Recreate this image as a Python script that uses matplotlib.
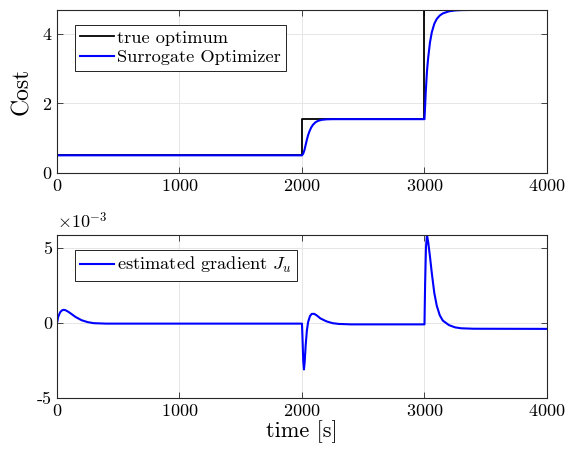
import matplotlib
matplotlib.use("Agg")
import matplotlib.pyplot as plt
from matplotlib.ticker import FuncFormatter

# ---- data ----
t_true = [0, 2000, 3000, 4000]
cost_true = [0.5, 1.54, 4.68, 4.68]

t_sur = [0, 2000, 2010, 2020, 2030, 2040, 2050, 2060, 2075, 2090, 2110, 2130, 2160,
         2200, 2250, 2350, 3000, 3005, 3010, 3020, 3030, 3045, 3060, 3080, 3100,
         3125, 3150, 3200, 3250, 3300, 3400, 4000]
cost_sur = [0.5, 0.5, 0.55, 0.65, 0.8, 0.95, 1.08, 1.18, 1.3, 1.38, 1.45, 1.49, 1.52,
            1.535, 1.54, 1.54, 1.54, 1.9, 2.3, 2.9, 3.3, 3.75, 4.04, 4.28, 4.42,
            4.52, 4.58, 4.64, 4.665, 4.675, 4.68, 4.68]

t_grad = [0, 10, 25, 40, 55, 70, 90, 120, 150, 200, 250, 300, 400, 500,
          2000, 2005, 2010, 2016, 2022, 2030, 2040, 2050, 2065, 2080, 2100, 2120,
          2150, 2200, 2250, 2300, 2400,
          3000, 3005, 3012, 3020, 3030, 3045, 3060, 3080, 3100, 3125, 3150, 3200,
          3250, 3300, 3400, 4000]
grad = [0.0, 0.4e-3, 0.7e-3, 0.83e-3, 0.87e-3, 0.84e-3, 0.75e-3, 0.58e-3, 0.4e-3,
        0.18e-3, 0.05e-3, -0.02e-3, -0.05e-3, -0.05e-3,
        -0.05e-3, -1.2e-3, -2.5e-3, -3.1e-3, -2.6e-3, -1.5e-3, -0.5e-3, 0.05e-3,
        0.45e-3, 0.6e-3, 0.6e-3, 0.5e-3, 0.3e-3, 0.1e-3, -0.02e-3, -0.07e-3, -0.1e-3,
        -0.1e-3, 2.5e-3, 5.0e-3, 5.85e-3, 5.4e-3, 4.4e-3, 3.3e-3, 2.0e-3, 1.15e-3,
        0.5e-3, 0.15e-3, -0.15e-3, -0.3e-3, -0.36e-3, -0.39e-3, -0.4e-3]

x_ticks = [0, 1000, 2000, 3000, 4000]
cost_ticks = [0, 2, 4]
grad_ticks = [-5e-3, 0, 5e-3]

plt.rcParams['font.family'] = 'serif'
plt.rcParams['font.serif'] = ['cmr10', 'DejaVu Serif']
plt.rcParams['mathtext.fontset'] = 'cm'
plt.rcParams['axes.unicode_minus'] = False
plt.rcParams['axes.formatter.use_mathtext'] = True

fig = plt.figure(figsize=(5.70, 4.51), dpi=100)
ax1 = fig.add_axes([0.1, 0.617, 0.8596, 0.361])
ax2 = fig.add_axes([0.1, 0.1175, 0.8596, 0.3615])

edge = '#262626'
gridc = '#e6e6e6'

def style(ax):
    for s in ax.spines.values():
        s.set_color(edge)
        s.set_linewidth(0.8)
    ax.tick_params(direction='in', top=True, right=True, length=4, width=0.6,
                   colors=edge, labelcolor='black', labelsize=13)
    ax.grid(True, color=gridc, linewidth=0.7)
    ax.set_axisbelow(True)
    ax.set_xlim(0, 4000)
    ax.set_xticks(x_ticks)

leg_kw = dict(loc='upper left', bbox_to_anchor=(0.036, 0.91), fontsize=13.2,
              fancybox=False, edgecolor='black', framealpha=1, handlelength=1.85,
              handletextpad=0.15, borderpad=0.3, labelspacing=0.2, borderaxespad=0)

ax1.step(t_true, cost_true, where='post', color='black', lw=1.3, label='true optimum')
ax1.plot(t_sur, cost_sur, color=(0, 0, 1), lw=1.5, label='Surrogate Optimizer')
style(ax1)
ax1.set_ylim(0, 4.68)
ax1.set_yticks(cost_ticks)
ax1.set_ylabel('Cost', fontsize=17, labelpad=6)
leg1 = ax1.legend(**leg_kw)
leg1.get_frame().set_linewidth(0.6)

ax2.plot(t_grad, grad, color=(0, 0, 1), lw=1.5, label=r'estimated gradient $J_u$')
style(ax2)
ax2.set_ylim(-5e-3, 5.85e-3)
ax2.set_yticks(grad_ticks)
ax2.yaxis.set_major_formatter(FuncFormatter(lambda v, p: f"{v*1e3:g}"))
ax2.text(0.0, 1.02, r'$\times10^{-3}$', transform=ax2.transAxes, fontsize=13,
         ha='left', va='bottom')
ax2.set_xlabel('time [s]', fontsize=16, labelpad=1)
leg2 = ax2.legend(**leg_kw)
leg2.get_frame().set_linewidth(0.6)

fig.savefig('out.png', dpi=100)
